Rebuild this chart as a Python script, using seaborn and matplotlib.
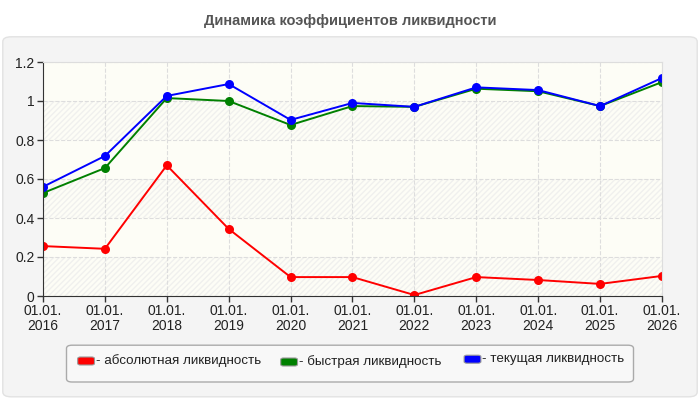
import pandas as pd
import matplotlib.pyplot as plt
import seaborn as sns
import numpy as np
from matplotlib.patches import FancyBboxPatch, Rectangle

years = [2016, 2017, 2018, 2019, 2020, 2021, 2022, 2023, 2024, 2025, 2026]
tick_labels = ['01.01.\n%d' % y for y in years]
absolute = [0.256, 0.242, 0.67, 0.344, 0.097, 0.097, 0.005, 0.097, 0.082, 0.062, 0.103]
quick = [0.528, 0.656, 1.015, 1.0, 0.877, 0.974, 0.97, 1.063, 1.05, 0.974, 1.097]
current = [0.56, 0.718, 1.026, 1.087, 0.903, 0.99, 0.97, 1.07, 1.056, 0.974, 1.118]
names = ['- абсолютная ликвидность', '- быстрая ликвидность', '- текущая ликвидность']
colors = ['#ff0000', '#008000', '#0000ff']

df = pd.concat([
    pd.DataFrame({'year': years, 'value': vals, 'series': n})
    for n, vals in zip(names, [absolute, quick, current])
])

sns.set_style('white')
plt.rcParams['font.family'] = ['Liberation Sans', 'DejaVu Sans']

fig = plt.figure(figsize=(7, 4), dpi=100)
fig.patch.set_facecolor('white')
fig.patches.append(FancyBboxPatch((0.004, 0.008), 0.992, 0.9, boxstyle='round,pad=0,rounding_size=0.012',
                                  transform=fig.transFigure, facecolor='#f4f4f4', edgecolor='#e2e2e2', lw=1, zorder=-5))
fig.text(0.5, 0.948, 'Динамика коэффициентов ликвидности', ha='center', va='center',
         fontsize=10.5, fontweight='bold', color='#555555')

ax = fig.add_axes([0.0614, 0.26, 0.8843, 0.585])
ax.set_zorder(2)
ax.set_facecolor('#fdfdf6')
for i, lo in enumerate(np.arange(0, 1.2, 0.2)):
    if i % 2 == 0:
        ax.add_patch(Rectangle((years[0], lo), years[-1] - years[0], 0.2, facecolor='none',
                               edgecolor='#f0f0ee', hatch='//////', lw=0, zorder=0))

sns.lineplot(data=df, x='year', y='value', hue='series', palette=colors, marker='o',
             markersize=6.5, markeredgewidth=0, linewidth=1.4, ax=ax, legend=False)

ax.set_xlim(years[0], years[-1])
ax.set_ylim(0, 1.2)
ax.set_xticks(years)
ax.set_xticklabels(tick_labels, fontsize=10, color='#222222', linespacing=1.05)
ax.set_yticks([0, 0.2, 0.4, 0.6, 0.8, 1, 1.2])
ax.set_yticklabels(['0', '0.2', '0.4', '0.6', '0.8', '1', '1.2'], fontsize=10, color='#222222')
ax.tick_params(axis='both', length=4, width=1, color='#333333', direction='out', pad=2, bottom=True, left=True)
ax.set_xlabel('')
ax.set_ylabel('')
ax.grid(True, color='#dddddd', linestyle='--', linewidth=0.8)
ax.set_axisbelow(True)
for s in ['top', 'right']:
    ax.spines[s].set_color('#dddddd')
for s in ['left', 'bottom']:
    ax.spines[s].set_color('#333333')

# legend
fig.patches.append(FancyBboxPatch((0.095, 0.045), 0.81, 0.092, boxstyle='round,pad=0,rounding_size=0.008',
                                  transform=fig.transFigure, facecolor='#f8f8f8', edgecolor='#aaaaaa', lw=1, zorder=1))
leg_x = [0.111, 0.401, 0.663]
leg_y = [0.0975, 0.095, 0.102]
for x, y, n, c in zip(leg_x, leg_y, names, colors):
    fig.patches.append(FancyBboxPatch((x, y - 0.01), 0.024, 0.02, boxstyle='round,pad=0,rounding_size=0.004',
                                      transform=fig.transFigure, facecolor=c, edgecolor='#999999', lw=0.8, zorder=2))
    fig.text(x + 0.026, y, n, ha='left', va='center', fontsize=9.6, color='#222222', zorder=3)

fig.savefig('out.png', dpi=100)
